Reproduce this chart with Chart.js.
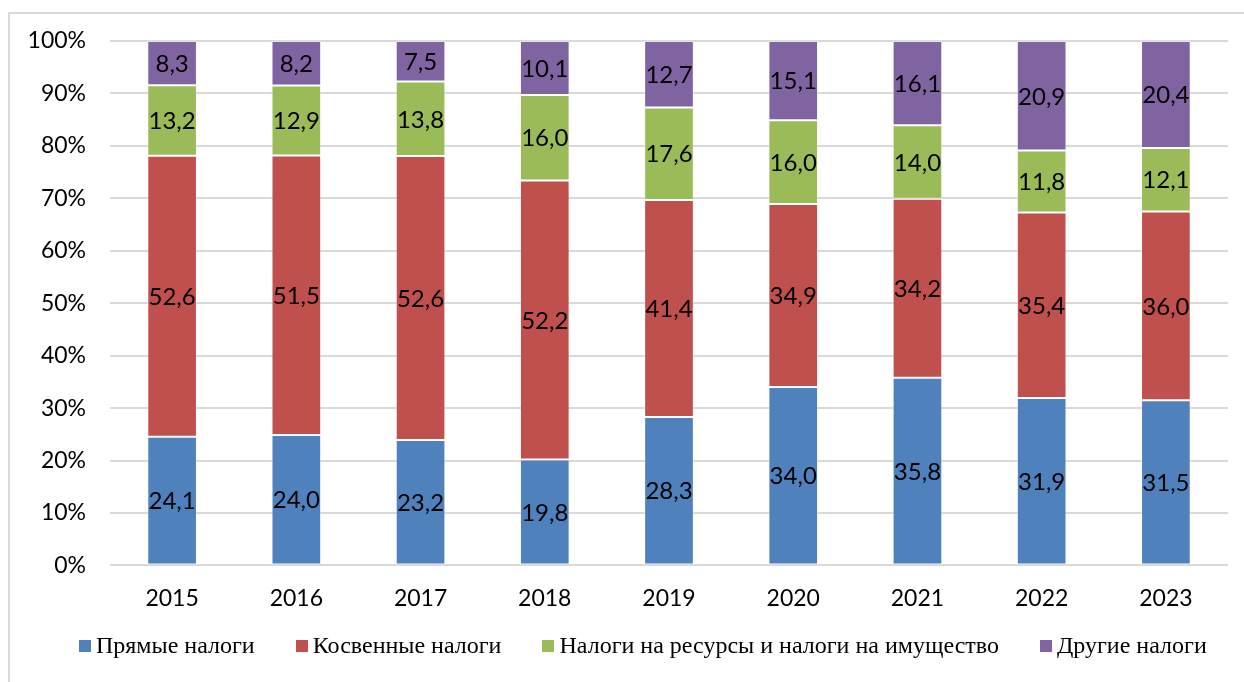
<!DOCTYPE html>
<html>
<head>
<meta charset="utf-8">
<script src="https://cdn.jsdelivr.net/npm/chart.js@4/dist/chart.umd.min.js"></script>
<style>
    html, body { margin: 0; padding: 0; background: #fff; }
    #wrap { position: relative; width: 1244px; height: 682px; }
    #frame {
        position: absolute; left: 8px; top: 12px; right: 0; bottom: 0;
        border-top: 2px solid #d9d9d9; border-left: 2px solid #d9d9d9;
    }
    canvas { position: absolute; left: 0; top: 0; }
    #legend {
        position: absolute; left: 79px; top: 631px;
        display: flex; align-items: center;
        font-family: 'Liberation Serif', 'Times New Roman', serif;
        font-size: 24px; line-height: 28px; color: #000; white-space: nowrap;
    }
    .item { display: flex; align-items: center; margin-right: 41px; }
    .box { width: 12px; height: 12px; margin-right: 5px; margin-top: 1px; }
</style>
</head>
<body>
<div id="wrap">
    <div id="frame"></div>
    <canvas id="taxChart" width="1244" height="682"></canvas>
    <div id="legend"></div>
</div>
<script>
// Data
const years = ['2015', '2016', '2017', '2018', '2019', '2020', '2021', '2022', '2023'];
const direct = [24.1, 24.0, 23.2, 19.8, 28.3, 34.0, 35.8, 31.9, 31.5];
const indirect = [52.6, 51.5, 52.6, 52.2, 41.4, 34.9, 34.2, 35.4, 36.0];
const resources = [13.2, 12.9, 13.8, 16.0, 17.6, 16.0, 14.0, 11.8, 12.1];
const other = [8.3, 8.2, 7.5, 10.1, 12.7, 15.1, 16.1, 20.9, 20.4];

const seriesNames = ['Прямые налоги', 'Косвенные налоги', 'Налоги на ресурсы и налоги на имущество', 'Другие налоги'];
const seriesColors = ['#4f81bd', '#c0504d', '#9bbb59', '#8064a2'];
const seriesValues = [direct, indirect, resources, other];

// 100% stacked: share of each year's total
const totals = years.map((_, i) => seriesValues.reduce((s, arr) => s + arr[i], 0));

const tickFont = { family: 'Lato', size: 23 };

// Draw the raw values in the middle of each segment
const segmentLabels = {
    id: 'segmentLabels',
    afterDatasetsDraw(chart) {
        const ctx = chart.ctx;
        ctx.save();
        ctx.font = '24px Lato';
        ctx.fillStyle = '#000';
        ctx.textAlign = 'center';
        ctx.textBaseline = 'middle';
        chart.data.datasets.forEach((ds, di) => {
            chart.getDatasetMeta(di).data.forEach((bar, i) => {
                const mid = (bar.y + bar.base) / 2;
                ctx.fillText(ds.raw[i].toFixed(1).replace('.', ','), bar.x, mid + 1);
            });
        });
        ctx.restore();
    }
};

// Legend built from the chart's own datasets
const htmlLegend = {
    id: 'htmlLegend',
    afterUpdate(chart) {
        const el = document.getElementById('legend');
        el.innerHTML = '';
        chart.data.datasets.forEach(ds => {
            const item = document.createElement('div');
            item.className = 'item';
            const box = document.createElement('span');
            box.className = 'box';
            box.style.background = ds.backgroundColor;
            const txt = document.createElement('span');
            txt.textContent = ds.label;
            item.appendChild(box);
            item.appendChild(txt);
            el.appendChild(item);
        });
    }
};

const ctx = document.getElementById('taxChart').getContext('2d');
new Chart(ctx, {
    type: 'bar',
    data: {
        labels: years,
        datasets: seriesValues.map((vals, k) => ({
            label: seriesNames[k],
            raw: vals,
            data: vals.map((v, i) => v / totals[i] * 100),
            backgroundColor: seriesColors[k],
            borderColor: 'rgba(255,255,255,0.35)',
            borderWidth: 1,
            borderSkipped: false,
            categoryPercentage: 1,
            barPercentage: 0.4
        }))
    },
    options: {
        responsive: false,
        animation: false,
        layout: { padding: { left: 10, right: 16, top: 41, bottom: 59 } },
        plugins: {
            tooltip: { enabled: false },
            legend: { display: false }
        },
        scales: {
            x: {
                stacked: true,
                grid: { display: false },
                border: { display: false },
                ticks: { color: '#000', font: tickFont, padding: 11 }
            },
            y: {
                stacked: true,
                min: 0,
                max: 100,
                afterFit(scale) { scale.width = 100; },
                grid: { color: '#d9d9d9', lineWidth: 2, drawTicks: false },
                border: { display: false },
                ticks: {
                    stepSize: 10,
                    color: '#000',
                    font: tickFont,
                    padding: 24,
                    callback: v => v + '%'
                }
            }
        }
    },
    plugins: [segmentLabels, htmlLegend]
});
</script>
</body>
</html>
